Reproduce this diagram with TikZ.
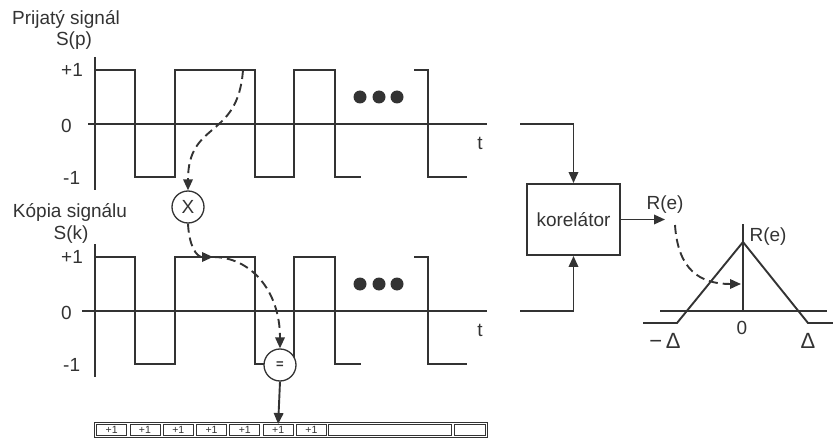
\documentclass[tikz,border=0pt]{standalone}
\usepackage{fontspec}
\setmainfont{Liberation Sans}
\usetikzlibrary{arrows.meta, positioning, fit, calc}
\definecolor{cInk}{HTML}{333333}
\tikzset{
  lbl/.style={font=\fontsize{19}{22}\selectfont, text=cInk, inner sep=0pt},
  wave/.style={draw=cInk, line width=1.9pt},
  opnode/.style={circle, draw=cInk, fill=white, line width=1.3pt,
    minimum size=32pt, inner sep=0pt, text=cInk},
  korbox/.style={rectangle, draw=cInk, line width=1.9pt,
    minimum width=93pt, minimum height=71pt,
    font=\fontsize{19}{22}\selectfont, text=cInk},
  cell/.style={rectangle, draw=cInk, line width=0.9pt, minimum width=30pt,
    minimum height=11pt, inner sep=0pt, font=\fontsize{10.5}{12}\selectfont, text=cInk},
  arrow/.style={-{Triangle[length=11pt, width=9.5pt]}, draw=cInk, line width=1.9pt},
  darrow/.style={arrow, dash pattern=on 9pt off 5pt},
}

\begin{document}
\begin{tikzpicture}[x=1pt, y=-1pt]
  \useasboundingbox (0,0) rectangle (833,441);

  % Headings
  \node[lbl, anchor=base] (hp)  at (66,25)  {Prijatý signál};
  \node[lbl, anchor=base] (hps) at (74,46)  {S(p)};
  \node[lbl, anchor=base] (hk)  at (70,218) {Kópia signálu};
  \node[lbl, anchor=base] (hks) at (71,239) {S(k)};

  % Both signals: axes, waveform, dots
  \foreach \dy/\ax/\s in {0/88/p, 187/82/k} {
    \begin{scope}[shift={(0,\dy)}]
      \draw[wave] (95,57) -- (95,190);
      \draw[wave] (\ax,124) -- (487,124);
      \draw[wave] (95,70) -- (135,70) -- (135,177) -- (175,177) -- (175,70)
        -- (255,70) -- (255,177) -- (294,177) -- (294,70) -- (335,70)
        -- (335,177) -- (361,177);
      \draw[wave] (414,70) -- (428,70) -- (428,177) -- (467,177);
      \foreach \xd in {360,379,397}
        \fill[cInk] (\xd,97) circle (6.5pt);
      \node[lbl, anchor=west] (plus\s)  at (61,70)  {+1};
      \node[lbl, anchor=west] (zero\s)  at (61,126) {0};
      \node[lbl, anchor=west] (minus\s) at (63,178) {-1};
      \node[lbl] (t\s) at (480,143) {t};
    \end{scope}
  }

  % Multiply and compare
  \node[opnode, font=\fontsize{19}{22}\selectfont] (xnode)  at (188,207) {X};
  \node[opnode, font=\fontsize{13}{14}\selectfont\bfseries] (eqnode) at (280,365) {=};

  % Result register
  \foreach \i in {1,...,7}
    \node[cell] (c\i) at ({95+33.3*(\i-0.5)},430) {+1};
  \node[cell, minimum width=123pt] (c8) at (390,430) {};
  \node[cell, minimum width=31pt]  (c9) at (470,430) {};
  \node[draw=cInk, line width=0.9pt, inner sep=1.5pt, fit=(c1)(c9)] (row) {};

  % Dashed flow between the signals
  \coordinate (ptop) at (243,70);
  \coordinate (kmid) at (213,257);
  \draw[darrow] (ptop) .. controls (238,140) and (188,120) .. (xnode.north);
  \draw[darrow] (xnode.south) .. controls (189,245) and (196,257) .. (kmid);
  \draw[darrow] (kmid) .. controls (250,257) and (280,290) .. (eqnode.north);
  \draw[arrow] (eqnode.south) -- (c6.north);

  % Correlator
  \node[korbox] (kor) at (573.5,219.5) {korelátor};
  \coordinate (inp) at (520,124);
  \coordinate (ink) at (520,311);
  \coordinate (rout) at (665,219.5);
  \draw[arrow] (inp) -| (kor.north);
  \draw[arrow] (ink) -| (kor.south);
  \draw[arrow] (kor.east) -- (rout);
  \node[lbl] (rlab) at (665,205) {R(e)};

  % Correlation function
  \coordinate (apex)  at (743,242);
  \coordinate (lbase) at (677,323);
  \coordinate (rbase) at (808,323);
  \draw[wave] (743,224) -- (743,311);
  \draw[wave] (660,311) -- (827,311);
  \draw[wave] (643,323) -- (lbase) -- (apex) -- (rbase) -- (833,323);
  \node[lbl] (rtop) at (768,237) {R(e)};
  \node[lbl] (tzero) at (742,328) {0};
  \node[lbl, font=\fontsize{22}{24}\selectfont] (dl) at (665,341) {−\,Δ};
  \node[lbl, font=\fontsize{22}{24}\selectfont] (dr) at (808,341) {Δ};
  \coordinate (rstart) at (675,225);
  \coordinate (rhit) at (741,284);
  \draw[darrow] (rstart) .. controls (678,270) and (700,284) .. (rhit);

\end{tikzpicture}
\end{document}
